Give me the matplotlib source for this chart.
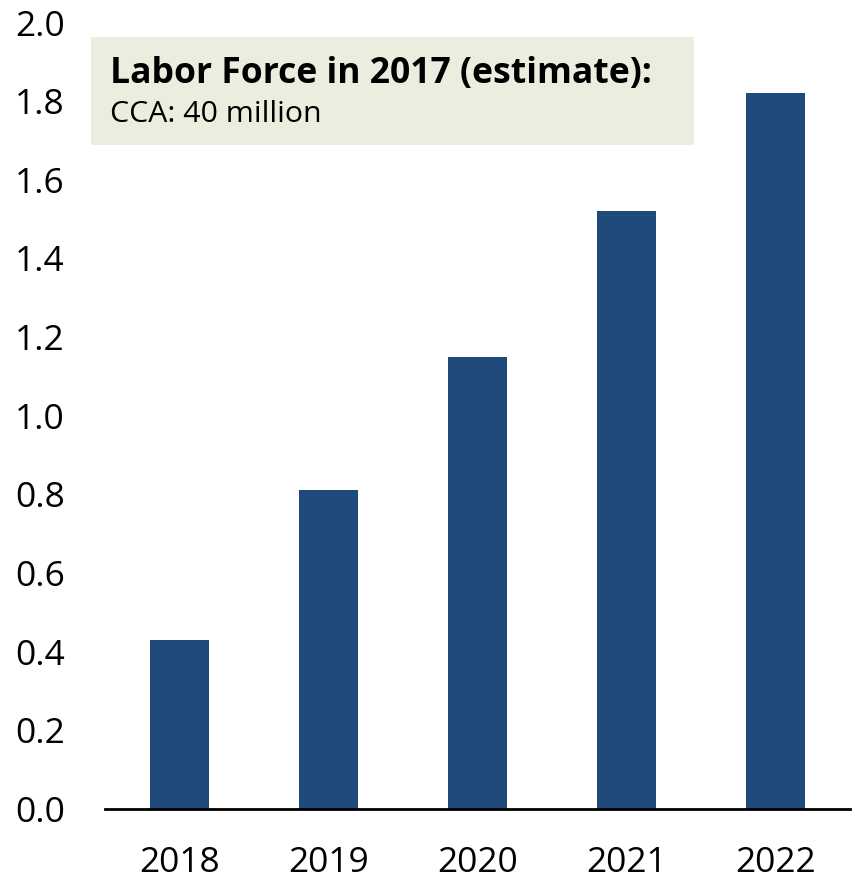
import matplotlib
matplotlib.use("Agg")
import matplotlib.pyplot as plt
from matplotlib.patches import Rectangle

plt.rcParams['font.family'] = ['Open Sans', 'DejaVu Sans']

years = ['2018', '2019', '2020', '2021', '2022']
values = [0.43, 0.81, 1.15, 1.52, 1.82]
yticks = [0.0, 0.2, 0.4, 0.6, 0.8, 1.0, 1.2, 1.4, 1.6, 1.8, 2.0]

bar_color = '#204a7b'
box_color = '#eaeedf'

fig = plt.figure(figsize=(8.55, 8.8), dpi=100)
ax = fig.add_axes([0.1228, 0.0807, 0.8712, 0.8937])

ax.bar(range(len(years)), values, width=0.4, color=bar_color)

ax.set_xlim(-0.5, len(years) - 0.5)
ax.set_ylim(0, 2.0)
ax.set_xticks(range(len(years)))
ax.set_xticklabels(years)
ax.set_yticks(yticks)
ax.set_yticklabels([f'{t:.1f}' for t in yticks])
ax.tick_params(axis='both', length=0, labelsize=25.5, labelcolor='black')
ax.tick_params(axis='y', pad=29)
ax.tick_params(axis='x', pad=27)

for side in ['top', 'right', 'left']:
    ax.spines[side].set_visible(False)
ax.spines['bottom'].set_linewidth(2)
ax.spines['bottom'].set_color('black')

# annotation box in the upper left
box = Rectangle((0.1064, 0.835), 0.705, 0.1227, transform=fig.transFigure,
                facecolor=box_color, edgecolor='none', zorder=3)
fig.patches.append(box)
fig.text(0.1287, 0.9053, 'Labor Force in 2017 (estimate):', fontsize=25.6,
         fontweight='bold', va='baseline', ha='left', zorder=4)
fig.text(0.1287, 0.8617, 'CCA: 40 million', fontsize=21.8,
         va='baseline', ha='left', zorder=4)

fig.savefig('out.png', dpi=100)
